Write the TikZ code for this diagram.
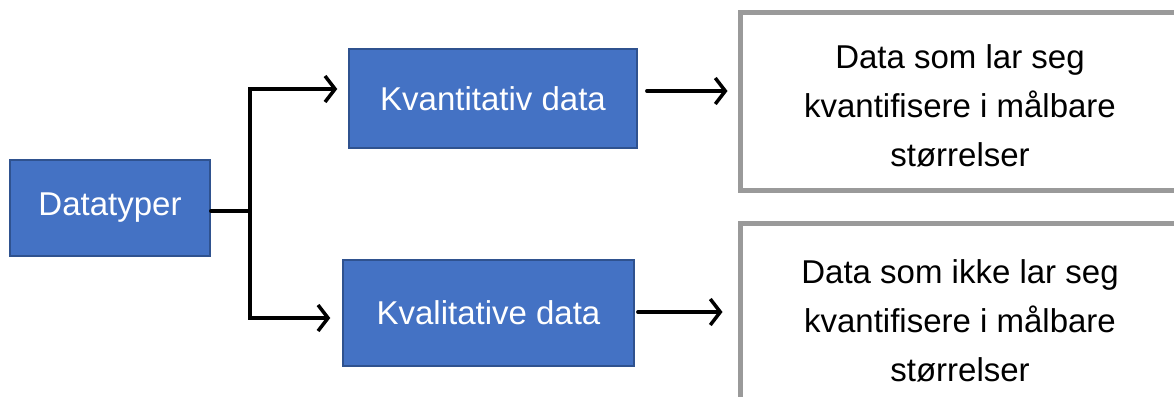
\documentclass[tikz,border=0pt]{standalone}
\usepackage{fontspec}
\setmainfont{Liberation Sans}
\usetikzlibrary{arrows.meta}
\definecolor{bluefill}{HTML}{4472C4}
\definecolor{blueline}{HTML}{2F528F}
\definecolor{greyline}{HTML}{9A9A9A}
\begin{document}
\begin{tikzpicture}[x=1pt,y=-1pt,
  bluebox/.style={draw=blueline,line width=1.5pt,fill=bluefill,text=white,
    font=\fontsize{33}{40}\selectfont,inner sep=0pt},
  greybox/.style={draw=greyline,line width=5pt,fill=white,inner sep=0pt},
  desc/.style={align=center,font=\fontsize{33}{49}\selectfont,inner sep=0pt},
  conn/.style={line width=3.3pt,line cap=round,line join=miter},
  arr/.style={conn,-{Straight Barb[length=10pt,width=26pt,line width=3.5pt]}}]
\useasboundingbox (0,0) rectangle (1174,396);
\clip (0,0) rectangle (1174,396);
\fill[white] (0,0) rectangle (1174,396);
% left box
\node[bluebox,minimum width=200pt,minimum height=96pt] (dt) at (110,208) {Datatyper};
% middle boxes
\node[bluebox,minimum width=288pt,minimum height=99pt] (kvant) at (493,98.5) {Kvantitativ data};
\node[bluebox,minimum width=291pt,minimum height=106pt] (kval) at (488.5,313) {Kvalitative data};
% right boxes
\node[greybox,minimum width=440pt,minimum height=177pt] (r1) at (960,101.5) {};
\node[desc] (r1t) at (960,106) {Data som lar seg\\kvantifisere i målbare\\størrelser};
\node[greybox,minimum width=440pt,minimum height=190pt] (r2) at (960,318) {};
\node[desc] (r2t) at (960,321) {Data som ikke lar seg\\kvantifisere i målbare\\størrelser};
% junction
\coordinate (j) at (250,211);
\coordinate (jt) at (250,89);
\coordinate (jb) at (250,318);
\draw[conn] (dt.east |- j) -- (j);
\draw[arr] (j) -- (jt) -- ([xshift=-11pt]kvant.west |- jt);
\draw[arr] (j) -- (jb) -- ([xshift=-12pt]kval.west |- jb);
% right arrows
\draw[arr] ([xshift=9pt]kvant.east |- 0,91) -- ([xshift=-10pt]r1.west |- 0,91);
\draw[arr] ([xshift=3pt]kval.east |- 0,312) -- ([xshift=-15pt]r2.west |- 0,312);
\end{tikzpicture}
\end{document}
